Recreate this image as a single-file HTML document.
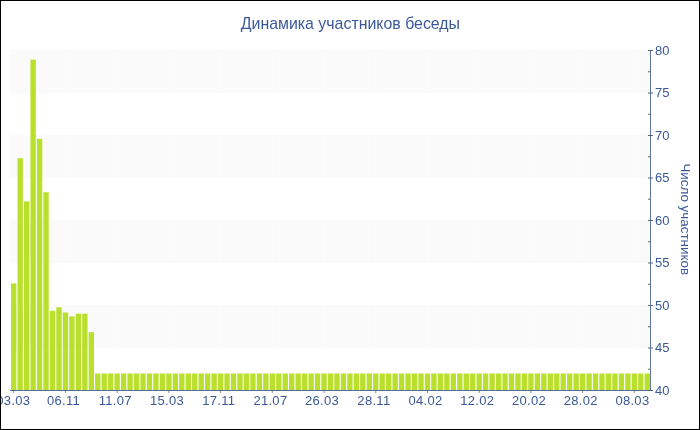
<!DOCTYPE html>
<html lang="ru">
<head>
<meta charset="utf-8">
<title>Динамика участников беседы</title>
<style>
html,body{margin:0;padding:0;background:#fff;}
body{width:700px;height:430px;overflow:hidden;}
#chart{position:relative;width:698px;height:428px;border:1px solid #000;background:#fff;overflow:hidden;}
svg{position:absolute;left:-1px;top:-1px;display:block;}
text{font-family:"Liberation Sans",sans-serif;fill:#3B5998;}
.t{font-size:15.9px;}
.yt{font-size:13.4px;}
.l{font-size:13px;}
</style>
</head>
<body>
<div id="chart">
<svg width="700" height="430" viewBox="0 0 700 430">

<g fill="#fafafa">
<rect x="10" y="50.0" width="641" height="42.8"/>
<rect x="10" y="135.0" width="641" height="42.8"/>
<rect x="10" y="220.0" width="641" height="42.8"/>
<rect x="10" y="305.0" width="641" height="42.8"/>
</g>
<g stroke="#fff" stroke-opacity="0.7" stroke-width="1" stroke-dasharray="4 4">
<line x1="13.73" y1="389" x2="13.73" y2="50.5"/>
<line x1="65.45" y1="389" x2="65.45" y2="50.5"/>
<line x1="117.17" y1="389" x2="117.17" y2="50.5"/>
<line x1="168.88" y1="389" x2="168.88" y2="50.5"/>
<line x1="220.60" y1="389" x2="220.60" y2="50.5"/>
<line x1="272.32" y1="389" x2="272.32" y2="50.5"/>
<line x1="324.04" y1="389" x2="324.04" y2="50.5"/>
<line x1="375.75" y1="389" x2="375.75" y2="50.5"/>
<line x1="427.47" y1="389" x2="427.47" y2="50.5"/>
<line x1="479.19" y1="389" x2="479.19" y2="50.5"/>
<line x1="530.90" y1="389" x2="530.90" y2="50.5"/>
<line x1="582.62" y1="389" x2="582.62" y2="50.5"/>
<line x1="634.34" y1="389" x2="634.34" y2="50.5"/>
</g>
<g fill="#BAE02E">
<rect x="11.05" y="283.40" width="5.36" height="107.10"/>
<rect x="17.51" y="158.20" width="5.36" height="232.30"/>
<rect x="23.98" y="201.38" width="5.36" height="189.12"/>
<rect x="30.44" y="59.68" width="5.36" height="330.82"/>
<rect x="36.91" y="138.90" width="5.36" height="251.60"/>
<rect x="43.37" y="192.20" width="5.36" height="198.30"/>
<rect x="49.84" y="310.86" width="5.36" height="79.64"/>
<rect x="56.30" y="307.29" width="5.36" height="83.21"/>
<rect x="62.77" y="312.47" width="5.36" height="78.03"/>
<rect x="69.23" y="316.46" width="5.36" height="74.04"/>
<rect x="75.70" y="313.66" width="5.36" height="76.84"/>
<rect x="82.16" y="313.66" width="5.36" height="76.84"/>
<rect x="88.63" y="332.19" width="5.36" height="58.31"/>
<rect x="95.09" y="373.50" width="5.36" height="17.00"/>
<rect x="101.56" y="373.50" width="5.36" height="17.00"/>
<rect x="108.02" y="373.50" width="5.36" height="17.00"/>
<rect x="114.48" y="373.50" width="5.36" height="17.00"/>
<rect x="120.95" y="373.50" width="5.36" height="17.00"/>
<rect x="127.41" y="373.50" width="5.36" height="17.00"/>
<rect x="133.88" y="373.50" width="5.36" height="17.00"/>
<rect x="140.34" y="373.50" width="5.36" height="17.00"/>
<rect x="146.81" y="373.50" width="5.36" height="17.00"/>
<rect x="153.27" y="373.50" width="5.36" height="17.00"/>
<rect x="159.74" y="373.50" width="5.36" height="17.00"/>
<rect x="166.20" y="373.50" width="5.36" height="17.00"/>
<rect x="172.67" y="373.50" width="5.36" height="17.00"/>
<rect x="179.13" y="373.50" width="5.36" height="17.00"/>
<rect x="185.60" y="373.50" width="5.36" height="17.00"/>
<rect x="192.06" y="373.50" width="5.36" height="17.00"/>
<rect x="198.52" y="373.50" width="5.36" height="17.00"/>
<rect x="204.99" y="373.50" width="5.36" height="17.00"/>
<rect x="211.45" y="373.50" width="5.36" height="17.00"/>
<rect x="217.92" y="373.50" width="5.36" height="17.00"/>
<rect x="224.38" y="373.50" width="5.36" height="17.00"/>
<rect x="230.85" y="373.50" width="5.36" height="17.00"/>
<rect x="237.31" y="373.50" width="5.36" height="17.00"/>
<rect x="243.78" y="373.50" width="5.36" height="17.00"/>
<rect x="250.24" y="373.50" width="5.36" height="17.00"/>
<rect x="256.71" y="373.50" width="5.36" height="17.00"/>
<rect x="263.17" y="373.50" width="5.36" height="17.00"/>
<rect x="269.64" y="373.50" width="5.36" height="17.00"/>
<rect x="276.10" y="373.50" width="5.36" height="17.00"/>
<rect x="282.57" y="373.50" width="5.36" height="17.00"/>
<rect x="289.03" y="373.50" width="5.36" height="17.00"/>
<rect x="295.49" y="373.50" width="5.36" height="17.00"/>
<rect x="301.96" y="373.50" width="5.36" height="17.00"/>
<rect x="308.42" y="373.50" width="5.36" height="17.00"/>
<rect x="314.89" y="373.50" width="5.36" height="17.00"/>
<rect x="321.35" y="373.50" width="5.36" height="17.00"/>
<rect x="327.82" y="373.50" width="5.36" height="17.00"/>
<rect x="334.28" y="373.50" width="5.36" height="17.00"/>
<rect x="340.75" y="373.50" width="5.36" height="17.00"/>
<rect x="347.21" y="373.50" width="5.36" height="17.00"/>
<rect x="353.68" y="373.50" width="5.36" height="17.00"/>
<rect x="360.14" y="373.50" width="5.36" height="17.00"/>
<rect x="366.61" y="373.50" width="5.36" height="17.00"/>
<rect x="373.07" y="373.50" width="5.36" height="17.00"/>
<rect x="379.53" y="373.50" width="5.36" height="17.00"/>
<rect x="386.00" y="373.50" width="5.36" height="17.00"/>
<rect x="392.46" y="373.50" width="5.36" height="17.00"/>
<rect x="398.93" y="373.50" width="5.36" height="17.00"/>
<rect x="405.39" y="373.50" width="5.36" height="17.00"/>
<rect x="411.86" y="373.50" width="5.36" height="17.00"/>
<rect x="418.32" y="373.50" width="5.36" height="17.00"/>
<rect x="424.79" y="373.50" width="5.36" height="17.00"/>
<rect x="431.25" y="373.50" width="5.36" height="17.00"/>
<rect x="437.72" y="373.50" width="5.36" height="17.00"/>
<rect x="444.18" y="373.50" width="5.36" height="17.00"/>
<rect x="450.65" y="373.50" width="5.36" height="17.00"/>
<rect x="457.11" y="373.50" width="5.36" height="17.00"/>
<rect x="463.58" y="373.50" width="5.36" height="17.00"/>
<rect x="470.04" y="373.50" width="5.36" height="17.00"/>
<rect x="476.50" y="373.50" width="5.36" height="17.00"/>
<rect x="482.97" y="373.50" width="5.36" height="17.00"/>
<rect x="489.43" y="373.50" width="5.36" height="17.00"/>
<rect x="495.90" y="373.50" width="5.36" height="17.00"/>
<rect x="502.36" y="373.50" width="5.36" height="17.00"/>
<rect x="508.83" y="373.50" width="5.36" height="17.00"/>
<rect x="515.29" y="373.50" width="5.36" height="17.00"/>
<rect x="521.76" y="373.50" width="5.36" height="17.00"/>
<rect x="528.22" y="373.50" width="5.36" height="17.00"/>
<rect x="534.69" y="373.50" width="5.36" height="17.00"/>
<rect x="541.15" y="373.50" width="5.36" height="17.00"/>
<rect x="547.62" y="373.50" width="5.36" height="17.00"/>
<rect x="554.08" y="373.50" width="5.36" height="17.00"/>
<rect x="560.54" y="373.50" width="5.36" height="17.00"/>
<rect x="567.01" y="373.50" width="5.36" height="17.00"/>
<rect x="573.47" y="373.50" width="5.36" height="17.00"/>
<rect x="579.94" y="373.50" width="5.36" height="17.00"/>
<rect x="586.40" y="373.50" width="5.36" height="17.00"/>
<rect x="592.87" y="373.50" width="5.36" height="17.00"/>
<rect x="599.33" y="373.50" width="5.36" height="17.00"/>
<rect x="605.80" y="373.50" width="5.36" height="17.00"/>
<rect x="612.26" y="373.50" width="5.36" height="17.00"/>
<rect x="618.73" y="373.50" width="5.36" height="17.00"/>
<rect x="625.19" y="373.50" width="5.36" height="17.00"/>
<rect x="631.66" y="373.50" width="5.36" height="17.00"/>
<rect x="638.12" y="373.50" width="5.36" height="17.00"/>
<rect x="644.59" y="373.50" width="5.36" height="17.00"/>
</g>
<g stroke="#000" stroke-opacity="0.6" stroke-width="1">
<line x1="648" y1="390.50" x2="653" y2="390.50"/>
<line x1="648" y1="369.25" x2="650" y2="369.25"/>
<line x1="648" y1="348.00" x2="653" y2="348.00"/>
<line x1="648" y1="326.75" x2="650" y2="326.75"/>
<line x1="648" y1="305.50" x2="653" y2="305.50"/>
<line x1="648" y1="284.25" x2="650" y2="284.25"/>
<line x1="648" y1="263.00" x2="653" y2="263.00"/>
<line x1="648" y1="241.75" x2="650" y2="241.75"/>
<line x1="648" y1="220.50" x2="653" y2="220.50"/>
<line x1="648" y1="199.25" x2="650" y2="199.25"/>
<line x1="648" y1="178.00" x2="653" y2="178.00"/>
<line x1="648" y1="156.75" x2="650" y2="156.75"/>
<line x1="648" y1="135.50" x2="653" y2="135.50"/>
<line x1="648" y1="114.25" x2="650" y2="114.25"/>
<line x1="648" y1="93.00" x2="653" y2="93.00"/>
<line x1="648" y1="71.75" x2="650" y2="71.75"/>
<line x1="648" y1="50.50" x2="653" y2="50.50"/>
<line x1="13.73" y1="390" x2="13.73" y2="393" stroke="#000" stroke-opacity="0.45"/>
<line x1="65.45" y1="390" x2="65.45" y2="393" stroke="#000" stroke-opacity="0.45"/>
<line x1="117.17" y1="390" x2="117.17" y2="393" stroke="#000" stroke-opacity="0.45"/>
<line x1="168.88" y1="390" x2="168.88" y2="393" stroke="#000" stroke-opacity="0.45"/>
<line x1="220.60" y1="390" x2="220.60" y2="393" stroke="#000" stroke-opacity="0.45"/>
<line x1="272.32" y1="390" x2="272.32" y2="393" stroke="#000" stroke-opacity="0.45"/>
<line x1="324.04" y1="390" x2="324.04" y2="393" stroke="#000" stroke-opacity="0.45"/>
<line x1="375.75" y1="390" x2="375.75" y2="393" stroke="#000" stroke-opacity="0.45"/>
<line x1="427.47" y1="390" x2="427.47" y2="393" stroke="#000" stroke-opacity="0.45"/>
<line x1="479.19" y1="390" x2="479.19" y2="393" stroke="#000" stroke-opacity="0.45"/>
<line x1="530.90" y1="390" x2="530.90" y2="393" stroke="#000" stroke-opacity="0.45"/>
<line x1="582.62" y1="390" x2="582.62" y2="393" stroke="#000" stroke-opacity="0.45"/>
<line x1="634.34" y1="390" x2="634.34" y2="393" stroke="#000" stroke-opacity="0.45"/>
</g>
<g stroke="#3B5998" stroke-width="1" fill="none">
<line x1="10.0" y1="390.5" x2="651.0" y2="390.5" stroke-opacity="0.88"/>
<line x1="650.5" y1="50.0" x2="650.5" y2="391.0" stroke-opacity="0.82"/>
</g>
<g class="l">
<text x="655" y="395.0">40</text>
<text x="655" y="352.0">45</text>
<text x="655" y="310.0">50</text>
<text x="655" y="267.0">55</text>
<text x="655" y="225.0">60</text>
<text x="655" y="182.0">65</text>
<text x="655" y="140.0">70</text>
<text x="655" y="97.0">75</text>
<text x="655" y="55.0">80</text>
</g>
<g class="l" text-anchor="middle" letter-spacing="0.3">
<text x="13.3" y="405">03.03</text>
<text x="63.5" y="405">06.11</text>
<text x="115.3" y="405">11.07</text>
<text x="167.0" y="405">15.03</text>
<text x="218.7" y="405">17.11</text>
<text x="270.4" y="405">21.07</text>
<text x="322.1" y="405">26.03</text>
<text x="373.9" y="405">28.11</text>
<text x="425.6" y="405">04.02</text>
<text x="477.3" y="405">12.02</text>
<text x="529.0" y="405">20.02</text>
<text x="580.7" y="405">28.02</text>
<text x="632.4" y="405">08.03</text>
</g>
<text class="t" x="350.4" y="28.8" text-anchor="middle">Динамика участников беседы</text>
<text class="yt" transform="translate(680.6,219.2) rotate(90)" text-anchor="middle">Число участников</text>
</svg>
</div>
</body>
</html>
